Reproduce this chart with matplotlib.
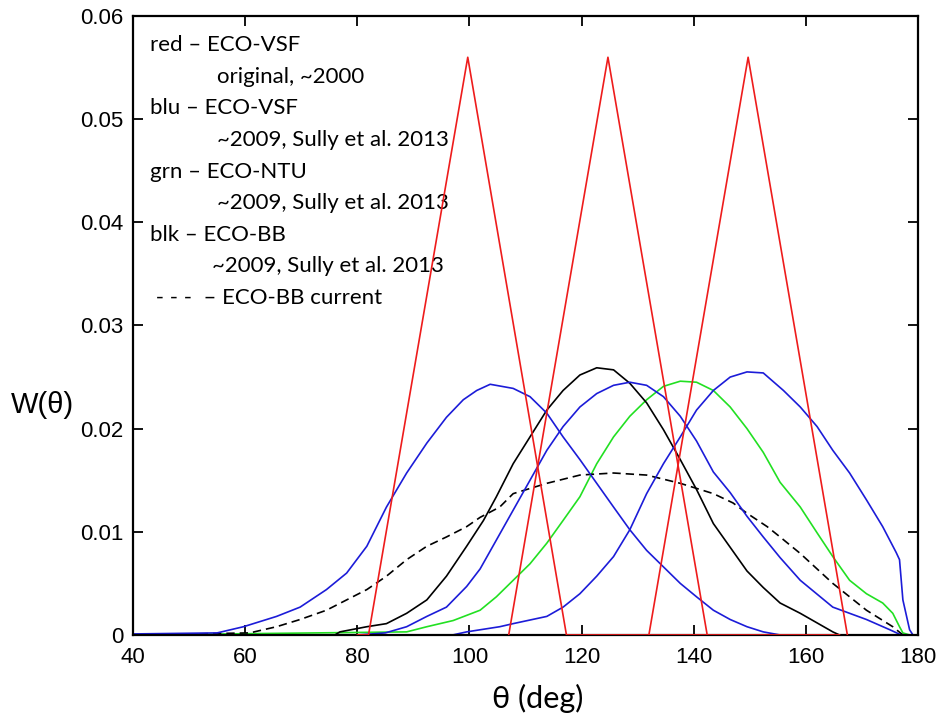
import matplotlib
matplotlib.use("Agg")
from matplotlib import pyplot as plt

# red: original ECO-VSF triangular weighting functions
red1_t = [80, 82, 99.7, 117.3, 166]
red1_w = [0, 0, 0.056, 0, 0]
red2_t = [107, 124.7, 142.4]
red2_w = [0, 0.056, 0]
red3_t = [132, 149.7, 167.4]
red3_w = [0, 0.056, 0]

# blue: ECO-VSF ~2009
blu1_t = [40, 55, 59.7, 65.6, 69.8, 74.5, 78.1, 81.7, 85.2, 88.8, 92.4, 95.9, 98.9, 101.3,
          103.7, 107.8, 110.8, 113.8, 116.7, 119.7, 122.7, 125.7, 128.6, 131.6, 134.6,
          137.6, 140.5, 143.5, 146.5, 149.5, 152.4, 155.4]
blu1_w = [0.0001, 0.0002, 0.0008, 0.0018, 0.0027, 0.0044, 0.0060, 0.0086, 0.0124, 0.0157,
          0.0186, 0.0211, 0.0228, 0.0237, 0.0243, 0.0239, 0.0231, 0.0215, 0.0192, 0.0170,
          0.0147, 0.0124, 0.0102, 0.0082, 0.0066, 0.0050, 0.0037, 0.0024, 0.0015, 0.0008,
          0.0003, 0.0]
blu2_t = [80, 85, 88.8, 92.4, 95.9, 99.5, 101.9, 104.8, 107.8, 110.8, 113.8, 116.7, 119.7,
          122.7, 125.7, 128.6, 131.6, 134.6, 137.6, 140.5, 143.5, 146.5, 149.5, 152.4,
          155.4, 159, 164.8, 170.8, 175, 177]
blu2_w = [0.0, 0.0002, 0.0008, 0.0018, 0.0027, 0.0047, 0.0064, 0.0092, 0.0121, 0.0150,
          0.0179, 0.0202, 0.0221, 0.0234, 0.0242, 0.0245, 0.0242, 0.0231, 0.0212, 0.0188,
          0.0158, 0.0138, 0.0115, 0.0095, 0.0075, 0.0053, 0.0027, 0.0015, 0.0005, 0.0]
blu3_t = [80, 97, 99.5, 105.4, 107.8, 113.8, 116.7, 119.7, 122.7, 125.7, 128.6, 131.6,
          134.6, 137.6, 140.5, 143.5, 146.5, 149.5, 152.4, 156, 159, 162, 164.8, 167.8,
          170.8, 173.7, 176.1, 176.7, 177.3, 178.5, 179.1]
blu3_w = [0.0, 0.0, 0.0003, 0.0008, 0.0011, 0.0018, 0.0027, 0.0040, 0.0057, 0.0076, 0.0102,
          0.0137, 0.0166, 0.0192, 0.0218, 0.0237, 0.0250, 0.0255, 0.0254, 0.0237, 0.0221,
          0.0202, 0.0179, 0.0157, 0.0131, 0.0105, 0.0080, 0.0073, 0.0034, 0.0005, 0.0]

# green: ECO-NTU
grn_t = [40, 88.8, 92.4, 97.1, 101.9, 104.8, 107.8, 110.8, 113.8, 116.7, 119.7, 122.7,
         125.7, 128.6, 131.6, 134.6, 137.6, 140.5, 143.5, 146.5, 149.5, 152.4, 155.4, 159,
         162, 164.8, 167.8, 170.8, 173.7, 175.5, 176.7, 177.3, 178.5]
grn_w = [0.0, 0.0003, 0.0008, 0.0014, 0.0024, 0.0037, 0.0053, 0.0069, 0.0089, 0.0111,
         0.0134, 0.0166, 0.0192, 0.0212, 0.0228, 0.0241, 0.0246, 0.0245, 0.0237, 0.0221,
         0.0200, 0.0177, 0.0148, 0.0124, 0.0099, 0.0076, 0.0053, 0.0040, 0.0031, 0.0021,
         0.0008, 0.0002, 0.0]

# black: ECO-BB ~2009
blk_t = [76, 76.9, 81.7, 85.2, 88.8, 92.4, 95.9, 99.5, 102.5, 104.8, 107.8, 110.8, 113.8,
         116.7, 119.7, 122.7, 125.7, 128.6, 131.6, 134.6, 137.6, 140.5, 143.5, 146.5, 149.5,
         152.4, 155.4, 159, 164.8, 166]
blk_w = [0.0, 0.0003, 0.0008, 0.0011, 0.0021, 0.0034, 0.0057, 0.0086, 0.0111, 0.0134,
         0.0166, 0.0192, 0.0218, 0.0237, 0.0252, 0.0259, 0.0257, 0.0244, 0.0225, 0.0199,
         0.0170, 0.0141, 0.0108, 0.0085, 0.0062, 0.0046, 0.0031, 0.0021, 0.0003, 0.0]

# dashed: ECO-BB current
cur_t = [40, 60.8, 65.6, 69.8, 74.5, 78.1, 81.7, 85.2, 88.8, 92.4, 95.9, 99.5, 101.9, 105.4,
         107.8, 113.8, 119.7, 125.7, 131.6, 137.6, 143.5, 147, 149.5, 153.1, 155.4, 159,
         164.8, 170.8, 175.5, 177.3]
cur_w = [0.0, 0.0002, 0.0008, 0.0015, 0.0024, 0.0034, 0.0044, 0.0057, 0.0073, 0.0086,
         0.0095, 0.0105, 0.0114, 0.0124, 0.0137, 0.0147, 0.0155, 0.0157, 0.0155, 0.0147,
         0.0137, 0.0128, 0.0118, 0.0105, 0.0095, 0.0079, 0.0050, 0.0024, 0.0008, 0.0]

notes = [("red \u2013 ECO-VSF", 0),
         ("original, ~2000", 1),
         ("blu \u2013 ECO-VSF", 0),
         ("~2009, Sully et al. 2013", 1),
         ("grn \u2013 ECO-NTU", 0),
         ("~2009, Sully et al. 2013", 1),
         ("blk \u2013 ECO-BB", 0),
         ("~2009, Sully et al. 2013", 2),
         (" - - -  \u2013 ECO-BB current", 0)]
indents = [0.022, 0.107, 0.101]

RED = "#ee1c1c"
BLU = "#1c1cd8"
GRN = "#22e022"

fig = plt.figure(figsize=(9.38, 7.17), dpi=100)
ax = fig.add_axes([0.1418, 0.1144, 0.8369, 0.8633])

lw = 1.2
ax.plot(red1_t, red1_w, color=RED, lw=lw, zorder=5)
ax.plot(red2_t, red2_w, color=RED, lw=lw, zorder=5)
ax.plot(red3_t, red3_w, color=RED, lw=lw, zorder=5)
ax.plot(grn_t, grn_w, color=GRN, lw=lw)
ax.plot(cur_t, cur_w, color="black", lw=lw, linestyle=(0, (5, 3)))
ax.plot(blk_t, blk_w, color="black", lw=lw)
ax.plot(blu1_t, blu1_w, color=BLU, lw=lw)
ax.plot(blu2_t, blu2_w, color=BLU, lw=lw)
ax.plot(blu3_t, blu3_w, color=BLU, lw=lw)

ax.set_xlim(40, 180)
ax.set_ylim(0, 0.06)
ax.set_xticks([40, 60, 80, 100, 120, 140, 160, 180])
ax.set_yticks([0, 0.01, 0.02, 0.03, 0.04, 0.05, 0.06])
ax.set_yticklabels(["0", "0.01", "0.02", "0.03", "0.04", "0.05", "0.06"])
ax.tick_params(direction="in", length=7, width=1.3, top=True, right=True,
               labelsize=16)
ax.tick_params(axis="x", pad=9)
ax.tick_params(axis="y", pad=7)
for lab in ax.get_xticklabels() + ax.get_yticklabels():
    lab.set_family("Liberation Sans")
for sp in ax.spines.values():
    sp.set_linewidth(1.6)

fig.text(0.012, 0.435, "W(\u03b8)", fontsize=21, family="Liberation Sans",
         ha="left", va="center")
fig.text(0.573, 0.026, "\u03b8 (deg)", fontsize=22, family="Lato",
         ha="center", va="center")

y0 = 0.953
dy = 0.0511
for i, (txt, indent) in enumerate(notes):
    ax.text(indents[indent], y0 - i * dy, txt, transform=ax.transAxes, fontsize=16,
            family="Lato", ha="left", va="center")

fig.savefig("out.png", dpi=100)
